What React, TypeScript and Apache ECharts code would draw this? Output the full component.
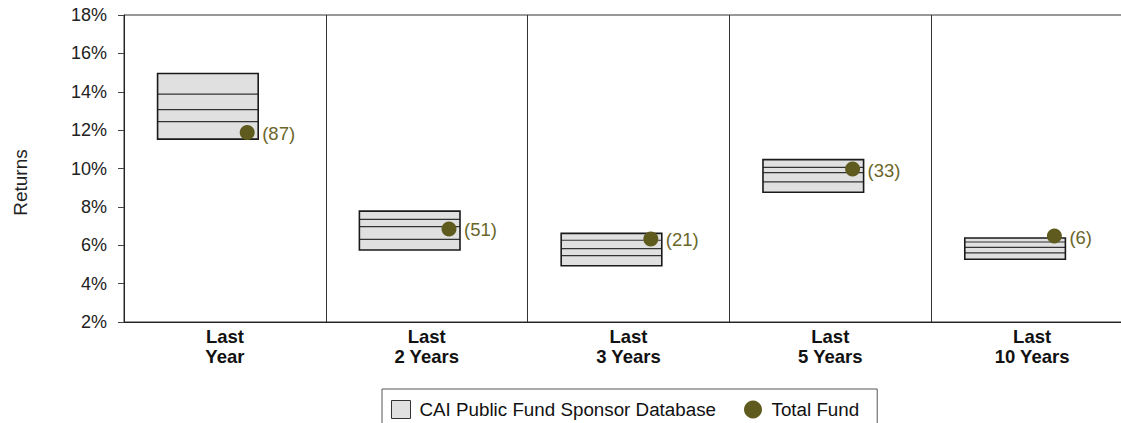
import React, { useEffect, useRef } from "react";
import * as echarts from "echarts";

const categories = ["Last\nYear", "Last\n2 Years", "Last\n3 Years", "Last\n5 Years", "Last\n10 Years"];
const p10 = [14.95, 7.78, 6.62, 10.46, 6.38];
const p25 = [13.88, 7.35, 6.26, 10.06, 6.17];
const p50 = [13.07, 6.97, 5.82, 9.78, 5.89];
const p75 = [12.44, 6.31, 5.46, 9.3, 5.6];
const p90 = [11.53, 5.75, 4.93, 8.76, 5.27];
const totalFund = [11.87, 6.85, 6.33, 9.97, 6.48];
const ranks = [87, 51, 21, 33, 6];
const yTicks = { min: 2, max: 18, interval: 2 };

const FONT = "'Liberation Sans', Arial, Helvetica, sans-serif";
const BOX_FILL = "#e0e0e0";
const OLIVE = "#5f5b1f";
const OLIVE_TEXT = "#6a6629";

export default function App() {
  const ref = useRef<HTMLDivElement>(null);
  useEffect(() => {
    if (!ref.current) return;
    const chart = echarts.init(ref.current, null, { renderer: "svg" });
    const boxData = categories.map((_, i) => [i, p10[i], p25[i], p50[i], p75[i], p90[i]]);
    const dotData = categories.map((_, i) => [i, totalFund[i], ranks[i]]);
    chart.setOption({
      animation: false,
      textStyle: { fontFamily: FONT },
      grid: {
        left: 124,
        right: -12,
        top: 15,
        bottom: 101,
        show: true,
        borderColor: "#333",
        borderWidth: 1,
        outerBoundsMode: "none",
      },
      legend: {
        left: 382,
        top: 389,
        orient: "horizontal",
        padding: [11, 18, 11, 9],
        borderColor: "#555",
        borderWidth: 1,
        itemWidth: 19,
        itemHeight: 18,
        itemGap: 28,
        textStyle: { fontSize: 18.8, color: "#111", fontFamily: FONT, padding: [0, 0, 0, 4] },
        data: [
          {
            name: "CAI Public Fund Sponsor Database",
            icon: "rect",
            itemStyle: { color: BOX_FILL, borderColor: "#333", borderWidth: 1 },
          },
          { name: "Total Fund", icon: "circle", itemStyle: { color: OLIVE } },
        ],
      },
      xAxis: {
        type: "category",
        data: categories,
        axisTick: { show: false },
        axisLine: { show: true, lineStyle: { color: "#222", width: 1 } },
        splitLine: { show: true, lineStyle: { color: "#333", width: 1 } },
        axisLabel: {
          fontSize: 18.5,
          fontWeight: "bold",
          color: "#111",
          lineHeight: 20,
          margin: 4,
          fontFamily: FONT,
          interval: 0,
        },
      },
      yAxis: {
        type: "value",
        min: yTicks.min,
        max: yTicks.max,
        interval: yTicks.interval,
        name: "Returns",
        nameLocation: "middle",
        nameGap: 94,
        nameTextStyle: { fontSize: 19, color: "#222", fontFamily: FONT, padding: [0, 28, 0, 0] },
        axisLine: { show: true, lineStyle: { color: "#222", width: 1 } },
        axisTick: { show: true, length: 6, lineStyle: { color: "#444" } },
        splitLine: { show: false },
        axisLabel: {
          formatter: "{value}%",
          fontSize: 18,
          color: "#222",
          margin: 17,
          fontFamily: FONT,
        },
      },
      series: [
        {
          name: "CAI Public Fund Sponsor Database",
          type: "custom",
          data: boxData,
          encode: { x: 0, y: [1, 2, 3, 4, 5] },
          itemStyle: { color: BOX_FILL },
          renderItem: (params: any, api: any) => {
            const idx = api.value(0);
            const bw = api.size([1, 0])[0];
            const c = api.coord([idx, api.value(1)]);
            const x0 = c[0] - 0.3336 * bw;
            const x1 = c[0] + 0.165 * bw;
            const yTop = api.coord([idx, api.value(1)])[1];
            const yBot = api.coord([idx, api.value(5)])[1];
            const inner = [2, 3, 4].map((k) => {
              const y = api.coord([idx, api.value(k)])[1];
              return {
                type: "line",
                shape: { x1: x0, y1: y, x2: x1, y2: y },
                style: { stroke: "#333", lineWidth: 1.2 },
              };
            });
            return {
              type: "group",
              children: [
                {
                  type: "rect",
                  shape: { x: x0, y: yTop, width: x1 - x0, height: yBot - yTop },
                  style: { fill: BOX_FILL, stroke: "none" },
                },
                ...inner,
                {
                  type: "rect",
                  shape: { x: x0, y: yTop, width: x1 - x0, height: yBot - yTop },
                  style: { fill: "none", stroke: "#1a1a1a", lineWidth: 1.6 },
                },
              ],
            };
          },
        },
        {
          name: "Total Fund",
          type: "custom",
          data: dotData,
          encode: { x: 0, y: 1 },
          itemStyle: { color: OLIVE },
          z: 3,
          renderItem: (params: any, api: any) => {
            const idx = api.value(0);
            const bw = api.size([1, 0])[0];
            const c = api.coord([idx, api.value(1)]);
            const cx = c[0] + 0.1105 * bw;
            const cy = c[1];
            return {
              type: "group",
              children: [
                {
                  type: "circle",
                  shape: { cx, cy, r: 7.5 },
                  style: { fill: OLIVE },
                },
                {
                  type: "text",
                  x: cx + 15,
                  y: cy + 1,
                  style: {
                    text: "(" + api.value(2) + ")",
                    fill: OLIVE_TEXT,
                    font: "18.5px " + FONT,
                    verticalAlign: "middle",
                    align: "left",
                  },
                },
              ],
            };
          },
        },
      ],
    });
    return () => chart.dispose();
  }, []);
  return (
    <div
      ref={ref}
      style={{ position: "absolute", left: 0, top: 0, width: 1121, height: 423 }}
    />
  );
}
